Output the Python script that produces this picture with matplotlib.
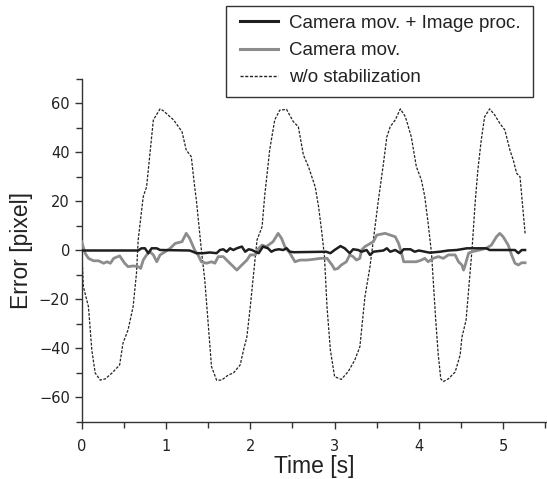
import matplotlib
matplotlib.use("Agg")
import matplotlib.pyplot as plt
from matplotlib.ticker import MultipleLocator
from matplotlib.patches import Rectangle

plt.rcParams['font.family'] = ['Liberation Sans', 'DejaVu Sans']

# ---- data ----
t_dash = [0.00, 0.02, 0.08, 0.12, 0.16, 0.22, 0.28, 0.36, 0.45, 0.49, 0.55, 0.61, 0.65, 0.67,
          0.73, 0.77, 0.85, 0.93, 0.97, 1.09, 1.19, 1.24, 1.30, 1.34, 1.36, 1.42, 1.46, 1.50,
          1.54, 1.60, 1.66, 1.74, 1.80, 1.88, 1.92, 1.96, 2.00, 2.04, 2.08, 2.14, 2.17, 2.23,
          2.29, 2.35, 2.43, 2.51, 2.57, 2.63, 2.69, 2.77, 2.81, 2.85, 2.88, 2.91, 2.95, 3.00,
          3.08, 3.16, 3.24, 3.30, 3.36, 3.42, 3.46, 3.52, 3.58, 3.62, 3.66, 3.72, 3.78, 3.84,
          3.91, 3.97, 4.03, 4.07, 4.11, 4.15, 4.20, 4.23, 4.26, 4.29, 4.35, 4.43, 4.49, 4.51,
          4.56, 4.63, 4.67, 4.70, 4.74, 4.78, 4.84, 4.90, 4.96, 5.02, 5.08, 5.12, 5.16, 5.20, 5.26]
e_dash = [0.2, -14.8, -22.9, -40.6, -50.0, -52.9, -52.4, -50.0, -46.7, -37.8, -32.4, -22.9, -9.2, 4.3,
          22.0, 26.0, 53.3, 57.8, 57.0, 53.3, 48.5, 41.0, 38.3, 26.0, 20.6, 0.2, -12.0, -29.6,
          -47.4, -52.9, -52.9, -50.8, -50.0, -46.7, -40.6, -35.2, -22.9, -9.2, 4.3, 9.7, 22.0, 41.0,
          53.3, 57.3, 57.6, 52.6, 50.5, 39.0, 34.2, 26.0, 17.9, 7.0, -2.5, -22.9, -40.6, -51.5,
          -52.6, -49.5, -44.7, -39.3, -18.9, -6.6, 4.3, 20.6, 35.6, 46.4, 50.5, 53.3, 57.8, 54.6,
          46.4, 34.2, 28.8, 22.0, 11.1, -1.1, -28.4, -42.6, -52.4, -53.5, -52.4, -49.6, -42.6, -35.5,
          -28.4, 0.2, 20.6, 32.9, 45.1, 54.6, 57.8, 55.3, 51.9, 49.2, 41.0, 36.9, 31.5, 30.1, 7.0]

t_cam = [0.00, 0.04, 0.08, 0.14, 0.20, 0.26, 0.30, 0.34, 0.38, 0.45, 0.51, 0.55, 0.61, 0.67,
         0.70, 0.73, 0.77, 0.81, 0.85, 0.89, 0.93, 0.99, 1.05, 1.11, 1.19, 1.24, 1.28, 1.34,
         1.38, 1.42, 1.48, 1.54, 1.58, 1.62, 1.68, 1.74, 1.80, 1.84, 1.90, 1.96, 2.00, 2.06,
         2.10, 2.14, 2.19, 2.27, 2.33, 2.37, 2.41, 2.47, 2.53, 2.59, 2.67, 2.75, 2.83, 2.91,
         2.97, 3.00, 3.04, 3.08, 3.14, 3.18, 3.22, 3.26, 3.30, 3.32, 3.36, 3.46, 3.50, 3.60,
         3.66, 3.72, 3.76, 3.80, 3.82, 3.89, 3.97, 4.03, 4.07, 4.11, 4.17, 4.23, 4.29, 4.35,
         4.43, 4.47, 4.51, 4.53, 4.55, 4.59, 4.63, 4.72, 4.80, 4.86, 4.92, 4.96, 5.00, 5.06,
         5.10, 5.14, 5.18, 5.22, 5.26]
e_cam = [3.6, -1.1, -3.2, -4.2, -4.2, -5.2, -4.6, -5.2, -3.2, -2.2, -5.2, -6.6, -6.3, -6.6,
         -7.3, -3.9, -1.8, -0.5, -1.8, -4.6, -1.8, -0.5, 0.9, 2.9, 3.6, 7.0, 5.0, 0.2,
         -1.8, -4.6, -5.2, -4.6, -5.2, -2.5, -2.5, -4.6, -6.6, -8.0, -5.9, -3.9, -1.8, -1.8,
         0.9, 2.2, 1.6, 3.6, 7.0, 5.0, 1.6, -1.1, -4.6, -3.9, -3.9, -3.6, -3.2, -3.2,
         -5.9, -7.7, -7.3, -5.9, -4.6, -1.8, -2.5, -3.9, -3.2, 0.2, 1.6, 3.6, 6.3, 7.0,
         6.3, 5.6, 2.9, -1.8, -4.6, -4.6, -4.6, -3.9, -3.2, -4.6, -3.2, -2.5, -3.2, -1.8,
         -1.8, -4.6, -5.9, -8.0, -5.9, -1.1, -0.5, 0.2, 0.9, 2.2, 5.6, 7.0, 5.6, 2.2,
         -1.8, -5.2, -5.9, -5.0, -5.0]

t_img = [0.00, 0.67, 0.71, 0.75, 0.79, 0.83, 0.89, 0.93, 1.28, 1.32, 1.36, 1.44, 1.52, 1.60,
         1.64, 1.68, 1.72, 1.76, 1.80, 1.84, 1.90, 1.94, 1.98, 2.02, 2.06, 2.10, 2.15, 2.21,
         2.25, 2.29, 2.34, 2.39, 2.43, 2.47, 2.52, 2.90, 2.95, 3.00, 3.07, 3.12, 3.18, 3.22,
         3.28, 3.32, 3.38, 3.42, 3.46, 3.58, 3.62, 3.66, 3.72, 3.78, 3.82, 3.90, 3.95, 4.00,
         4.13, 4.25, 4.35, 4.45, 4.57, 4.80, 4.84, 5.14, 5.18, 5.22, 5.26]
e_img = [0.0, 0.0, 0.9, 0.9, -1.1, 0.9, 0.9, 0.2, 0.0, -0.5, -1.1, -1.1, -0.8, -1.1,
         0.2, 0.5, -0.5, 0.9, 0.2, 0.9, 1.6, -0.5, 0.5, 0.2, -0.5, -1.1, 1.6, 0.9,
         -0.5, 0.2, 0.5, 0.2, 0.9, -0.5, -0.7, -0.5, -1.1, 0.2, 1.8, 0.9, -1.1, 0.5,
         0.2, -0.5, 0.2, -1.8, -0.5, 0.0, 0.9, -0.5, 0.2, -1.1, 0.5, 0.5, -0.5, 0.0,
         -0.9, -0.5, 0.0, 0.2, 0.9, 0.9, 0.2, 0.2, -1.1, 0.2, 0.2]

labels = ["Camera mov. + Image proc.", "Camera mov.", "w/o stabilization"]
x_ticks = [0, 1, 2, 3, 4, 5]
y_ticks = [-60, -40, -20, 0, 20, 40, 60]

W, H = 547, 479
# ---- figure ----
fig = plt.figure(figsize=(W / 100, H / 100), dpi=100)
ax = fig.add_axes([81.7 / W, 1 - 422 / H, (W - 81.7) / W, 343 / H])

l1, = ax.plot(t_img, e_img, color='#1e1e1e', lw=1.8, zorder=4)
l2, = ax.plot(t_cam, e_cam, color='#8c8c8c', lw=2.0, zorder=3)
l3, = ax.plot(t_dash, e_dash, color='#222222', lw=0.9, linestyle=(0, (2.2, 1.2)), zorder=2)

ax.set_xlim(0, 5.52)
ax.set_ylim(-70, 70)
ax.set_xticks(x_ticks)
ax.set_yticks(y_ticks)
ax.xaxis.set_minor_locator(MultipleLocator(0.5))
ax.yaxis.set_minor_locator(MultipleLocator(10))
for s in ['top', 'right']:
    ax.spines[s].set_visible(False)
for s in ['left', 'bottom']:
    ax.spines[s].set_color('#333333')
    ax.spines[s].set_linewidth(1.0)
ax.tick_params(which='major', direction='out', length=5, width=1.0, color='#333333',
               labelsize=10.5, labelcolor='#222222')
ax.tick_params(which='minor', direction='out', length=4, width=1.0, color='#333333')
ax.tick_params(axis='x', which='major', pad=7)
ax.tick_params(axis='y', which='major', pad=3.5)
ax.set_xticklabels([str(v) for v in x_ticks], family='DejaVu Sans')
ax.set_yticklabels([str(v).replace('-', '\u2212') for v in y_ticks], family='DejaVu Sans')

ax.set_xlabel("Time [s]", fontsize=16.5, color='#222222', labelpad=1)
ax.set_ylabel("Error [pixel]", fontsize=16.5, color='#222222', labelpad=4)

leg = fig.legend([l1, l2, l3], labels, loc='upper left',
                 bbox_to_anchor=(240 / W, 1 - 14.5 / H), fontsize=13.5,
                 frameon=False, handlelength=2.05, handletextpad=0.55,
                 labelspacing=0.55, borderpad=0, borderaxespad=0)
for h in leg.legend_handles:
    h.set_linewidth(2.2)
leg.legend_handles[2].set_linewidth(1.0)
for t in leg.get_texts():
    t.set_color('#222222')

fig.patches.append(Rectangle((226 / W, 1 - 97 / H), (533 - 226) / W, 91 / H,
                             transform=fig.transFigure, fill=False,
                             edgecolor='#333333', linewidth=1.0))

fig.savefig("out.png", dpi=100)
